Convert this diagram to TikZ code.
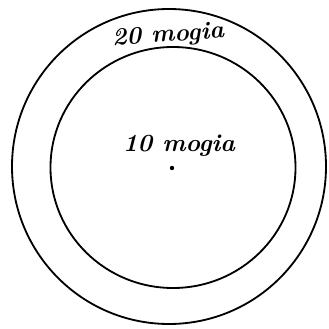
\documentclass[tikz,border=0pt]{standalone}
\usepackage{tikz}
\usetikzlibrary{positioning}

\tikzset{
  ring/.style={draw,line width=1.3pt},
  hand/.style={font=\fontsize{17.5}{20}\selectfont\bfseries\itshape}
}

\begin{document}
\begin{tikzpicture}[x=0.025cm,y=-0.025cm]
\useasboundingbox (0,0) rectangle (329,329);
\draw[ring] (169,166.5) ellipse (157 and 157.5);
\draw[ring] (173,167.5) ellipse (122.5 and 120.5);
\coordinate (c) at (172,168);
\fill (c) circle (2.2);
\node[hand,rotate=4] (outer) at (168,36) {20 mogia};
\node[hand] (inner) at (179,146) {10 mogia};
\end{tikzpicture}
\end{document}
